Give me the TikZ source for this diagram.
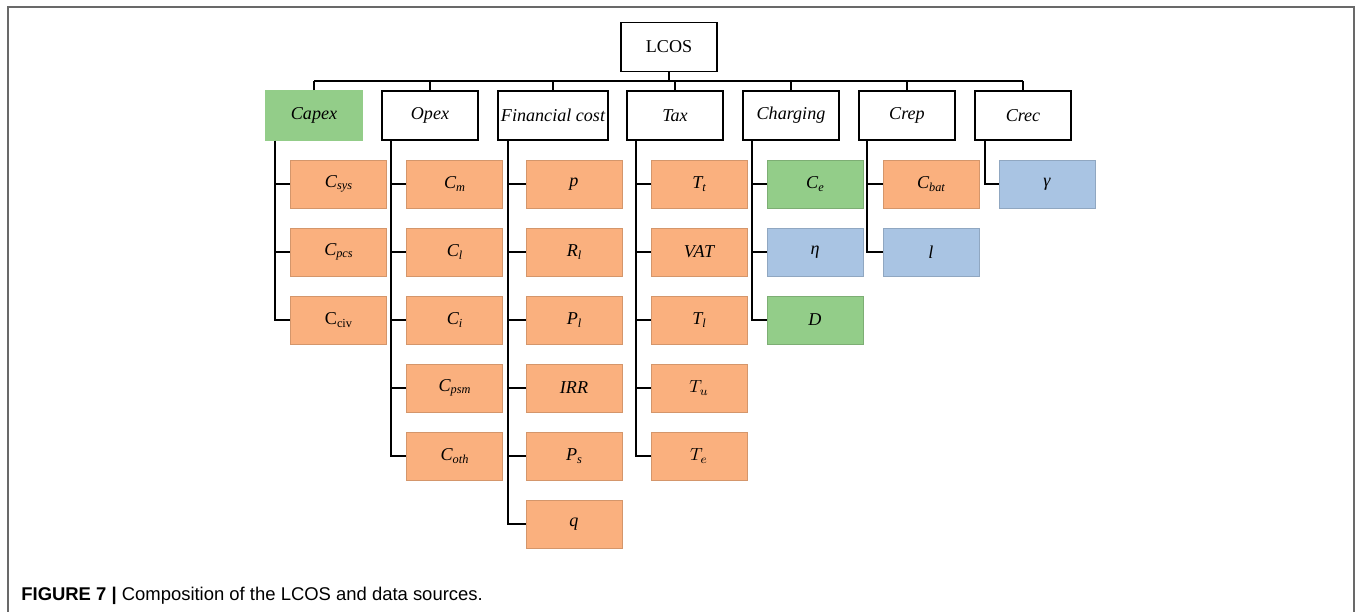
\documentclass[tikz,border=0pt]{standalone}
\usepackage{fontspec}
\setmainfont{Liberation Serif}
\newfontfamily\capfont{Liberation Sans}
\usepackage{xcolor}
\definecolor{lorange}{RGB}{250,176,126}
\definecolor{lgreen}{RGB}{147,205,137}
\definecolor{lblue}{RGB}{169,196,227}
\definecolor{framegray}{RGB}{105,105,105}
\newcommand{\sbs}[1]{\raisebox{-0.3ex}{\fontsize{7}{8}\selectfont #1}}

\begin{document}
\begin{tikzpicture}[x=0.02cm, y=-0.02cm,
      every node/.style={font=\fontsize{10.3}{12}\selectfont},
      catbox/.style={draw, line width=0.9pt, minimum width=1.92cm, minimum height=0.98cm,
        inner sep=1pt, font=\fontsize{10.3}{12}\selectfont\itshape},
      leaf/.style={minimum width=1.92cm, minimum height=0.96cm, inner sep=1pt,
        line width=0.3pt, font=\fontsize{10.3}{12}\selectfont\itshape},
      obox/.style={leaf, fill=lorange, draw=lorange!85!black},
      gbox/.style={leaf, fill=lgreen, draw=lgreen!85!black},
      bbox/.style={leaf, fill=lblue, draw=lblue!85!black},
      link/.style={line width=1pt}]
    \useasboundingbox (0,0) rectangle (1356,612);
    \draw[framegray, line width=0.8pt] (8,612) -- (8,7) -- (1354,7) -- (1354,612);
    % root and first level
    \node[catbox, font=\fontsize{10.3}{12}\selectfont] (lcos) at (669,47) {LCOS};
    \node[catbox, fill=lgreen, draw=lgreen] (capex) at (314,115.5) {Capex};
    \node[catbox] (opex) at (430,115.5) {Opex};
    \node[catbox, minimum width=2.2cm] (fin) at (553,115.5) {Financial cost};
    \node[catbox] (tax) at (675,115.5) {Tax};
    \node[catbox] (chg) at (791,115.5) {Charging};
    \node[catbox] (crep) at (907,115.5) {Crep};
    \node[catbox] (crec) at (1023,115.5) {Crec};
    \coordinate (bus) at (669,81);
    \draw[link] (lcos.south) -- (lcos.south |- bus);
    \draw[link] (capex.north |- bus) -- (crec.north |- bus);
    \foreach \n in {capex,opex,fin,tax,chg,crep,crec}
      \draw[link] (\n.north) -- (\n.north |- bus);
    % Capex
    \node[obox] (cs1) at (338.5,184) {C\sbs{sys}};
    \node[obox] (cs2) at (338.5,252) {C\sbs{pcs}};
    \node[obox] (cs3) at (338.5,320) {\upshape C\sbs{civ}};
    % Opex
    \node[obox] (op1) at (454.5,184) {C\sbs{m}}; \node[obox] (op2) at (454.5,252) {C\sbs{l}};
    \node[obox] (op3) at (454.5,320) {C\sbs{i}}; \node[obox] (op4) at (454.5,388) {C\sbs{psm}};
    \node[obox] (op5) at (454.5,456) {C\sbs{oth}};
    % Financial cost
    \node[obox] (fc1) at (574,184) {p}; \node[obox] (fc2) at (574,252) {R\sbs{l}};
    \node[obox] (fc3) at (574,320) {P\sbs{l}}; \node[obox] (fc4) at (574,388) {IRR};
    \node[obox] (fc5) at (574,456) {P\sbs{s}}; \node[obox] (fc6) at (574,524) {q};
    % Tax
    \node[obox] (tx1) at (699,184) {T\sbs{t}}; \node[obox] (tx2) at (699,252) {VAT};
    \node[obox] (tx3) at (699,320) {T\sbs{l}}; \node[obox] (tx4) at (699,388) {$T_u$};
    \node[obox] (tx5) at (699,456) {$T_e$};
    % Charging, Crep, Crec
    \node[gbox] (ch1) at (815,184) {C\sbs{e}}; \node[bbox] (ch2) at (815,252) {η};
    \node[gbox] (ch3) at (815,320) {D};
    \node[obox] (cr1) at (931,184) {C\sbs{bat}}; \node[bbox] (cr2) at (931,252) {l};
    \node[bbox] (cc1) at (1047,184) {γ};
    % trunks
    \foreach \c in {cs1,cs2,cs3}
      \draw[link] ([xshift=0.2cm]capex.south west) |- (\c.west);
    \foreach \c in {op1,op2,op3,op4,op5}
      \draw[link] ([xshift=0.2cm]opex.south west) |- (\c.west);
    \foreach \c in {fc1,fc2,fc3,fc4,fc5,fc6}
      \draw[link] ([xshift=0.22cm]fin.south west) |- (\c.west);
    \foreach \c in {tx1,tx2,tx3,tx4,tx5}
      \draw[link] ([xshift=0.2cm]tax.south west) |- (\c.west);
    \foreach \c in {ch1,ch2,ch3}
      \draw[link] ([xshift=0.2cm]chg.south west) |- (\c.west);
    \foreach \c in {cr1,cr2}
      \draw[link] ([xshift=0.18cm]crep.south west) |- (\c.west);
    \draw[link] ([xshift=0.22cm]crec.south west) |- (cc1.west);
    % caption
    \node[anchor=base west, inner sep=0pt, font=\capfont\fontsize{10.5}{12}\selectfont] (cap)
      at (21,600) {\textbf{FIGURE 7 |} Composition of the LCOS and data sources.};
  \end{tikzpicture}
\end{document}
